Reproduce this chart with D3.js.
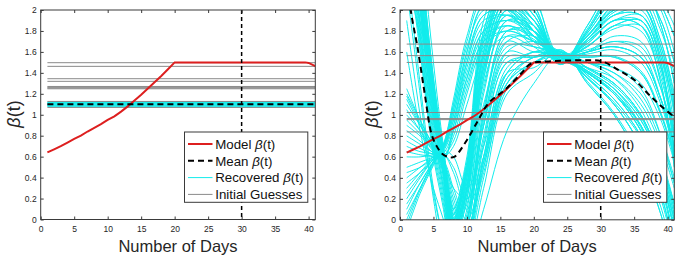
<!DOCTYPE html>
<html><head><meta charset="utf-8">
<script src="https://cdn.jsdelivr.net/npm/d3@7"></script>
<style>
body{margin:0;background:#fff}
svg{display:block}
text{font-family:"Liberation Sans",Arial,Helvetica,sans-serif}
</style>
</head><body>
<svg id="chart" width="696" height="261"></svg>
<script>
// ---------------- data ----------------
const xTicks = [0, 5, 10, 15, 20, 25, 30, 35, 40];
const yTicks = [0, 0.2, 0.4, 0.6, 0.8, 1, 1.2, 1.4, 1.6, 1.8, 2];
const markerDay = 30;

const modelDays = [1,2,3,4,5,6,7,8,9,10,11,12,13,14,15,16,17,18,19,20,39.5,40,41];
const modelBeta = [0.64,0.67,0.70,0.735,0.77,0.80,0.84,0.875,0.91,0.95,0.985,1.03,1.08,1.135,1.19,1.25,1.31,1.37,1.435,1.50,1.50,1.495,1.465];

// left panel (constant fits)
const leftDays = [1, 41];
const leftMeanBeta = 1.10;
const leftRecovered = [1.08, 1.085, 1.09, 1.095, 1.10, 1.105, 1.11, 1.115, 1.12];
const leftGuesses = [1.497, 1.462, 1.344, 1.319, 1.27, 1.262, 1.255, 1.248, 1.127, 1.070];

// right panel
const rightGuesses = [1.675, 1.565, 1.50, 1.023, 0.965, 0.955, 0.838];
const meanDays = [1, 1.6, 2.6, 3.7, 4.7, 5.5, 6.3, 7.2, 8.1, 9.7, 11.7, 13.2, 15.7, 18.2, 19.6, 22.2, 27.2, 30.2, 32.6, 35.1, 37.1, 39.1, 41];
const meanBeta = [2.4, 2.0, 1.65, 1.2, 0.82, 0.70, 0.63, 0.60, 0.60, 0.73, 0.95, 1.11, 1.24, 1.40, 1.49, 1.51, 1.52, 1.51, 1.43, 1.33, 1.20, 1.08, 0.98];
const knotDays = [1, 3, 5, 6.5, 8, 10, 12.5, 16, 20, 24, 28, 32, 36, 39, 41];
const rightRecovered = [
  [3.6, 2.2, 1.1, 0.45, -0.2, 0.3, 1.5, 2.1, 1.9, 1.52, 1.75, 2.0, 2.05, 1.65, 1.1],
  [3.2, 2.0, 1.0, 0.5, -0.1, 0.4, 1.6, 2.2, 2.0, 1.5, 1.7, 1.95, 2.0, 1.55, 0.9],
  [4.0, 2.5, 1.3, 0.6, 0.0, 0.5, 1.8, 2.3, 2.05, 1.5, 1.8, 2.15, 2.25, 1.85, 1.3],
  [3.0, 1.8, 0.8, 0.3, -0.3, 0.1, 1.2, 1.9, 1.85, 1.55, 1.65, 1.85, 1.9, 1.45, 0.8],
  [3.4, 2.1, 1.05, 0.4, -0.25, 0.2, 1.35, 2.0, 1.8, 1.55, 1.4, 1.2, 0.85, 0.4, -0.1],
  [3.8, 2.3, 1.2, 0.55, -0.05, 0.35, 1.45, 1.95, 1.7, 1.6, 1.45, 1.3, 1.0, 0.55, 0.15],
  [2.8, 1.7, 0.7, 0.2, -0.4, -0.1, 0.9, 1.7, 1.75, 1.57, 1.42, 1.25, 0.95, 0.5, 0.05],
  [3.1, 1.9, 0.9, 0.35, -0.15, 0.25, 1.3, 1.85, 1.65, 1.52, 1.72, 1.95, 1.95, 1.5, 0.6],
  [4.4, 2.8, 1.5, 0.7, 0.1, 0.6, 1.9, 2.4, 2.15, 1.48, 1.85, 2.25, 2.35, 2.05, 1.75],
  [3.5, 2.2, 1.15, 0.5, -0.1, 0.15, 1.1, 1.7, 1.6, 1.58, 1.35, 1.1, 0.7, 0.25, -0.3],
  [3.3, 2.0, 0.95, 0.4, -0.2, 0.0, 0.9, 1.6, 1.55, 1.6, 1.38, 1.15, 0.8, 0.35, -0.2],
  [2.6, 1.6, 0.6, 0.1, -0.5, -0.2, 0.7, 1.5, 1.5, 1.62, 1.3, 1.0, 0.55, 0.05, -0.5],
  [3.7, 2.3, 1.2, 0.6, 0.05, 0.45, 1.7, 2.15, 1.95, 1.5, 1.78, 2.1, 2.2, 1.9, 1.5],
  [3.9, 2.4, 1.25, 0.65, 0.1, 0.55, 1.75, 2.25, 2.1, 1.55, 1.68, 1.9, 1.85, 1.3, 0.5],
  [3.0, 1.85, 0.85, 0.3, -0.3, 0.05, 1.0, 1.75, 1.7, 1.56, 1.55, 1.55, 1.4, 1.0, 0.6],
  [3.3, 2.05, 1.0, 0.45, -0.1, 0.3, 1.4, 2.05, 1.85, 1.5, 1.72, 1.98, 2.05, 1.6, 1.0],
  [2.9, 1.75, 0.75, 0.25, -0.35, 0.0, 1.05, 1.8, 1.8, 1.55, 1.6, 1.65, 1.55, 1.15, 0.7],
  [3.6, 2.25, 1.15, 0.55, 0.0, 0.4, 1.55, 2.1, 1.9, 1.54, 1.66, 1.82, 1.85, 1.4, 0.75],
  [2.4, 1.3, 0.3, -0.2, -0.6, -0.3, 0.6, 1.4, 1.45, 1.6, 1.44, 1.28, 0.98, 0.52, 0.1],
  [2.2, 1.2, 0.2, -0.3, -0.5, -0.1, 0.8, 1.55, 1.55, 1.6, 1.36, 1.12, 0.78, 0.32, -0.25],
  [3.2, 2.1, 1.1, 0.5, -0.05, 0.5, 1.75, 2.2, 1.95, 1.52, 1.76, 2.02, 2.1, 1.7, 1.2],
  [2.7, 1.65, 0.65, 0.15, -0.45, -0.05, 1.0, 1.8, 1.75, 1.55, 1.58, 1.62, 1.5, 1.1, 0.65],
  [3.5, 2.15, 1.1, 0.5, -0.1, 0.3, 1.45, 2.0, 1.75, 1.57, 1.4, 1.22, 0.9, 0.45, 0.0],
  [4.2, 2.6, 1.35, 0.65, 0.05, 0.5, 1.65, 2.2, 2.0, 1.49, 1.82, 2.2, 2.3, 2.1, 1.85],
  [1.9, 1.0, 0.25, -0.2, -0.55, -0.25, 0.75, 1.5, 1.55, 1.56, 1.41, 1.22, 0.88, 0.42, -0.05],
  [1.6, 0.85, 0.3, 0.0, -0.35, 0.0, 0.95, 1.65, 1.65, 1.57, 1.56, 1.56, 1.42, 1.02, 0.62],
  [3.4, 2.35, 1.25, 0.6, 0.0, 0.45, 1.6, 2.15, 1.95, 1.52, 1.7, 1.9, 1.9, 1.45, 0.85],
  [3.1, 2.2, 1.2, 0.55, -0.05, 0.35, 1.5, 2.1, 1.9, 1.53, 1.45, 1.35, 1.1, 0.7, 0.3],
  [2.9, 2.05, 1.1, 0.5, -0.1, 0.25, 1.35, 2.0, 1.85, 1.55, 1.75, 2.05, 2.15, 1.8, 1.4],
  [3.7, 2.45, 1.3, 0.62, 0.02, 0.5, 1.7, 2.2, 2.0, 1.5, 1.6, 1.75, 1.7, 1.25, 0.65],
  [3.0, 2.15, 1.2, 0.58, -0.02, 0.4, 1.55, 2.1, 1.85, 1.56, 1.5, 1.4, 1.15, 0.75, 0.35],
  [2.5, 1.9, 1.05, 0.5, -0.1, 0.3, 1.4, 1.95, 1.8, 1.58, 1.62, 1.7, 1.65, 1.25, 0.8],
  [3.9, 2.55, 1.35, 0.65, 0.05, 0.55, 1.8, 2.3, 2.05, 1.48, 1.8, 2.2, 2.3, 2.0, 1.6],
  [2.3, 1.75, 0.95, 0.45, -0.15, 0.2, 1.25, 1.9, 1.8, 1.57, 1.5, 1.35, 1.05, 0.6, 0.15],
  [3.3, 2.4, 1.3, 0.6, 0.0, 0.45, 1.6, 2.15, 1.9, 1.5, 1.72, 2.0, 2.05, 1.6, 1.05],
  [2.7, 2.0, 1.15, 0.55, -0.05, 0.3, 1.45, 2.05, 1.9, 1.55, 1.4, 1.2, 0.9, 0.45, 0.0],
  [1.2, 0.95, 0.7, 0.5, 0.1, -0.2, 0.5, 1.3, 1.5, 1.55, 1.4, 1.2, 0.85, 0.4, -0.1],
  [1.1, 0.9, 0.72, 0.55, 0.2, -0.1, 0.6, 1.4, 1.6, 1.55, 1.6, 1.65, 1.55, 1.15, 0.7],
  [1.0, 0.85, 0.68, 0.5, 0.05, -0.3, 0.3, 1.2, 1.4, 1.62, 1.3, 1.0, 0.55, 0.05, -0.5],
  [0.9, 0.8, 0.66, 0.45, 0.0, -0.2, 0.4, 1.3, 1.55, 1.55, 1.65, 1.85, 1.9, 1.45, 0.8],
  [0.0, 0.3, 0.55, 0.7, 1.1, 1.7, 2.1, 2.0, 1.7, 1.52, 1.75, 2.0, 2.05, 1.65, 1.1],
  [0.2, 0.4, 0.58, 0.68, 1.0, 1.5, 1.9, 1.95, 1.75, 1.52, 1.72, 1.95, 1.95, 1.5, 0.6],
  [0.4, 0.5, 0.6, 0.67, 0.95, 1.4, 1.8, 1.9, 1.8, 1.56, 1.55, 1.55, 1.4, 1.0, 0.6],
  [0.1, 0.35, 0.56, 0.7, 1.05, 1.6, 2.05, 2.1, 1.85, 1.5, 1.8, 2.15, 2.25, 1.85, 1.3],
  [0.6, 0.6, 0.62, 0.64, 0.85, 1.3, 1.7, 1.8, 1.7, 1.57, 1.42, 1.25, 0.95, 0.5, 0.05],
  [0.8, 0.72, 0.64, 0.6, 0.7, 1.1, 1.55, 1.75, 1.65, 1.6, 1.45, 1.3, 1.0, 0.55, 0.15],
  [0.3, 0.45, 0.6, 0.7, 1.0, 1.55, 1.95, 2.0, 1.75, 1.5, 1.78, 2.1, 2.2, 1.9, 1.5],
  [1.25, 0.95, 0.7, 0.55, 0.3, 0.2, 0.9, 1.6, 1.7, 1.6, 1.38, 1.15, 0.8, 0.35, -0.2],
  [0.95, 0.82, 0.67, 0.48, 0.0, -0.4, 0.1, 0.85, 1.3, 1.58, 1.35, 1.1, 0.7, 0.25, -0.3],
  [0.5, 0.55, 0.6, 0.66, 0.9, 1.35, 1.75, 1.85, 1.75, 1.55, 1.68, 1.9, 1.85, 1.3, 0.5],
  [0.05, 0.3, 0.55, 0.72, 1.15, 1.75, 2.15, 2.1, 1.8, 1.48, 1.85, 2.25, 2.35, 2.05, 1.75],
  [1.15, 0.9, 0.68, 0.52, 0.15, -0.15, 0.55, 1.35, 1.55, 1.61, 1.32, 1.02, 0.6, 0.12, -0.4],
  [-0.1, 0.25, 0.52, 0.72, 1.1, 1.65, 2.0, 2.05, 1.8, 1.55, 1.6, 1.65, 1.55, 1.15, 0.7],
  [0.7, 0.65, 0.63, 0.62, 0.75, 1.2, 1.65, 1.8, 1.7, 1.55, 1.4, 1.2, 0.85, 0.4, -0.1],
  [0.15, 0.35, 0.55, 0.68, 0.95, 1.5, 1.95, 2.0, 1.8, 1.55, 1.7, 1.9, 1.95, 1.55, 1.05],
  [0.25, 0.42, 0.58, 0.66, 0.6, 0.3, 0.7, 1.45, 1.6, 1.58, 1.45, 1.3, 1.0, 0.55, 0.1],
  [0.45, 0.5, 0.58, 0.62, 0.5, 0.2, 0.6, 1.4, 1.6, 1.6, 1.35, 1.1, 0.7, 0.2, -0.3],
  [1.05, 0.85, 0.65, 0.58, 0.85, 1.35, 1.8, 1.9, 1.75, 1.53, 1.65, 1.85, 1.8, 1.35, 0.8],
  [0.85, 0.75, 0.64, 0.6, 0.8, 1.25, 1.7, 1.85, 1.72, 1.55, 1.6, 1.7, 1.6, 1.15, 0.6],
  [0.65, 0.62, 0.6, 0.56, 0.3, 0.0, 0.5, 1.3, 1.5, 1.58, 1.42, 1.25, 0.9, 0.45, 0.0],
  [0.35, 0.45, 0.57, 0.62, 0.45, 0.1, 0.55, 1.35, 1.55, 1.6, 1.5, 1.4, 1.2, 0.8, 0.4],
  [-0.05, 0.28, 0.53, 0.7, 1.05, 1.6, 2.05, 2.05, 1.8, 1.5, 1.75, 2.05, 2.1, 1.7, 1.15],
  [1.18, 0.92, 0.68, 0.58, 0.9, 1.45, 1.85, 1.95, 1.8, 1.52, 1.5, 1.45, 1.25, 0.8, 0.35],
  [0.75, 0.68, 0.62, 0.55, 0.25, -0.05, 0.45, 1.25, 1.5, 1.6, 1.5, 1.45, 1.3, 0.95, 0.55]
];

const legendNames = ["Model ", "Mean ", "Recovered ", "Initial Guesses"];
const legendBeta = [true, true, true, false];
const xLabel = "Number of Days";

// ---------------- drawing ----------------
const svg = d3.select("#chart");
const FONT = '"Liberation Sans",Arial,Helvetica,sans-serif';
const colors = {red: "#dd1f1f", cyan: "#12ecec", gray: "#8a8a8a", axis: "#3a3a3a", text: "#262626"};

function panel(opt) {
  const x = d3.scaleLinear().domain([0, 41]).range([opt.x0, opt.x1]);
  const y = d3.scaleLinear().domain([0, 2]).range([opt.y1, opt.y0]);
  const g = svg.append("g");
  const clipId = "clip" + opt.id;
  svg.append("clipPath").attr("id", clipId).append("rect")
    .attr("x", opt.x0).attr("y", opt.y0).attr("width", opt.x1 - opt.x0).attr("height", opt.y1 - opt.y0);
  const plot = g.append("g").attr("clip-path", `url(#${clipId})`);
  const line = d3.line().x(d => x(d[0])).y(d => y(d[1]));
  const smooth = d3.line().x(d => x(d[0])).y(d => y(d[1])).curve(d3.curveCatmullRom.alpha(0.5));

  opt.recovered.forEach(r => {
    plot.append("path").attr("d", opt.smoothRec ? smooth(r) : line(r))
      .attr("fill", "none").attr("stroke", colors.cyan).attr("stroke-width", 1);
  });
  opt.guesses.forEach(v => {
    plot.append("path").attr("d", line([[1, v], [41, v]]))
      .attr("fill", "none").attr("stroke", colors.gray).attr("stroke-width", 1);
  });
  plot.append("path").attr("d", line(modelDays.map((d, i) => [d, modelBeta[i]])))
    .attr("fill", "none").attr("stroke", colors.red).attr("stroke-width", 2);
  plot.append("path").attr("d", smooth(opt.mean))
    .attr("fill", "none").attr("stroke", "#000").attr("stroke-width", 2).attr("stroke-dasharray", "6,4");
  g.append("line").attr("x1", x(markerDay)).attr("x2", x(markerDay)).attr("y1", opt.y0).attr("y2", opt.y1)
    .attr("stroke", "#000").attr("stroke-width", 1.5).attr("stroke-dasharray", "4,3");

  const fmt = d => String(+d.toFixed(1));
  const ax = g.append("g").attr("transform", `translate(0,${opt.y1})`)
    .call(d3.axisBottom(x).tickValues(xTicks).tickSize(-3).tickPadding(6).tickFormat(fmt));
  const axT = g.append("g").attr("transform", `translate(0,${opt.y0})`)
    .call(d3.axisTop(x).tickValues(xTicks).tickSize(-3).tickFormat(""));
  const ay = g.append("g").attr("transform", `translate(${opt.x0},0)`)
    .call(d3.axisLeft(y).tickValues(yTicks).tickSize(-3).tickPadding(4).tickFormat(fmt));
  const ayR = g.append("g").attr("transform", `translate(${opt.x1},0)`)
    .call(d3.axisRight(y).tickValues(yTicks).tickSize(-3).tickFormat(""));
  [ax, axT, ay, ayR].forEach(a => {
    a.select(".domain").remove();
    a.selectAll("line").attr("stroke", colors.axis).attr("stroke-width", 1);
    a.selectAll("text").attr("fill", colors.text).style("font-size", "8.5px").style("font-family", FONT);
  });
  g.append("rect").attr("x", opt.x0).attr("y", opt.y0).attr("width", opt.x1 - opt.x0).attr("height", opt.y1 - opt.y0)
    .attr("fill", "none").attr("stroke", colors.axis).attr("stroke-width", 1);

  g.append("text").attr("x", (opt.x0 + opt.x1) / 2).attr("y", 252).attr("text-anchor", "middle")
    .style("font-size", "16.5px").attr("fill", colors.text).text(xLabel);
  const yl = g.append("text").attr("transform", `translate(${opt.ylx},114) rotate(-90)`)
    .attr("text-anchor", "middle").attr("dominant-baseline", "central")
    .style("font-size", "18px").attr("fill", colors.text);
  yl.append("tspan").style("font-style", "italic").text("β");
  yl.append("tspan").text("(t)");

  const lw = 123.3, lh = 70.3;
  const lx = opt.x1 - 7.5 - lw, ly = 132;
  const lg = g.append("g");
  lg.append("rect").attr("x", lx).attr("y", ly).attr("width", lw).attr("height", lh)
    .attr("fill", "#fff").attr("stroke", colors.axis).attr("stroke-width", 1);
  const styles = [
    {c: colors.red, w: 2, dash: null},
    {c: "#000", w: 2, dash: "6,4"},
    {c: colors.cyan, w: 1, dash: null},
    {c: colors.gray, w: 1, dash: null}
  ];
  legendNames.forEach((name, i) => {
    const cy = ly + 12 + i * 16.8;
    lg.append("line").attr("x1", lx + 3.5).attr("x2", lx + 28).attr("y1", cy).attr("y2", cy)
      .attr("stroke", styles[i].c).attr("stroke-width", styles[i].w)
      .attr("stroke-dasharray", styles[i].dash);
    const t = lg.append("text").attr("x", lx + 30.7).attr("y", cy).attr("dy", "0.36em")
      .style("font-size", "13.3px").attr("fill", "#111");
    t.append("tspan").text(name);
    if (legendBeta[i]) {
      t.append("tspan").style("font-style", "italic").text("β");
      t.append("tspan").text("(t)");
    }
  });
}

panel({
  id: "L", x0: 40.7, x1: 315.3, y0: 10, y1: 219.5, ylx: 14,
  recovered: leftRecovered.map(v => leftDays.map(d => [d, v])),
  smoothRec: false,
  guesses: leftGuesses,
  mean: leftDays.map(d => [d, leftMeanBeta])
});
panel({
  id: "R", x0: 400, x1: 674.3, y0: 10, y1: 219.8, ylx: 372,
  recovered: rightRecovered.map(r => knotDays.map((d, i) => [d, r[i]])),
  smoothRec: true,
  guesses: rightGuesses,
  mean: meanDays.map((d, i) => [d, meanBeta[i]])
});
</script>
</body></html>
